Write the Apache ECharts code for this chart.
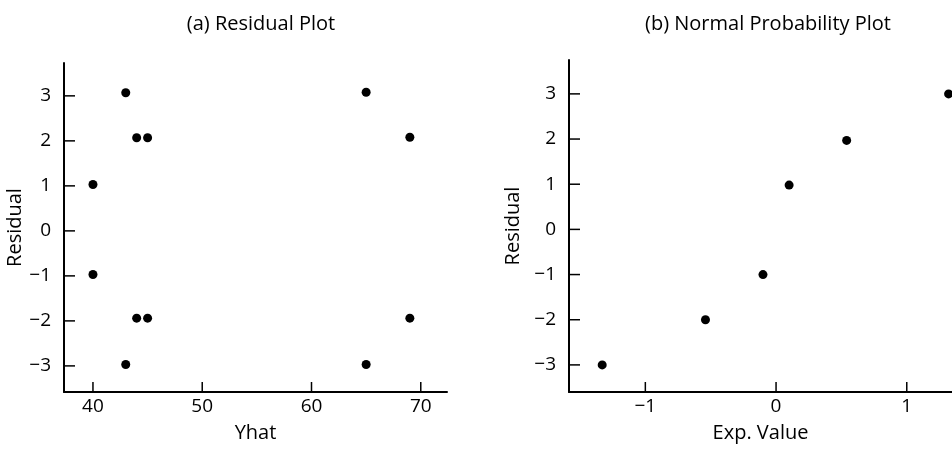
<!DOCTYPE html>
<html>
<head>
<meta charset="UTF-8">
<title>Residual Plots</title>
<script src="https://cdn.jsdelivr.net/npm/echarts@6/dist/echarts.min.js"></script>
</head>
<body style="margin:0;background:#fff">
<div id="container" style="width:952px;height:450px"></div>
<script type="text/javascript">
    // (a) residual plot
    var yhat = [43, 44, 45, 40, 65, 69, 40, 44, 45, 43, 65, 69];
    var residA = [3.07, 2.07, 2.07, 1.03, 3.08, 2.08, -0.97, -1.94, -1.94, -2.97, -2.97, -1.94];
    // (b) normal probability plot
    var expValue = [-1.33, -0.54, -0.1, 0.1, 0.54, 1.32];
    var residB = [-3, -2, -1, 0.98, 1.97, 3];

    var yhatTicks = [40, 50, 60, 70];
    var expTicks = [-1, 0, 1];
    var residTicks = [-3, -2, -1, 0, 1, 2, 3];

    // axis extents [xmin, xmax, ymin, ymax]
    var rangeA = [37.35, 72.4, -3.58, 3.73];
    var rangeB = [-1.584, 1.346, -3.6, 3.75];

    var font = 'Open Sans';

    function pairs(xs, ys) {
        return xs.map(function (x, i) { return [x, ys[i]]; });
    }
    function minus(v) {
        return String(v).replace('-', '\u2212');
    }

    function xAxisOf(idx, r, ticks, name) {
        return {
            type: 'value', gridIndex: idx, min: r[0], max: r[1],
            name: name, nameLocation: 'middle', nameGap: 31,
            nameTextStyle: {fontFamily: font, fontSize: 20, color: '#000'},
            axisLine: {show: true, onZero: false, lineStyle: {color: '#000', width: 2}},
            axisTick: {show: false},
            axisLabel: {customValues: ticks, margin: 5, fontFamily: font, fontSize: 19, color: '#000', formatter: minus},
            splitLine: {show: false}
        };
    }
    function yAxisOf(idx, r, gap) {
        return {
            type: 'value', gridIndex: idx, min: r[2], max: r[3],
            name: 'Residual', nameLocation: 'middle', nameGap: gap,
            nameTextStyle: {fontFamily: font, fontSize: 20, color: '#000'},
            axisLine: {show: true, onZero: false, lineStyle: {color: '#000', width: 2}},
            axisTick: {show: false},
            axisLabel: {customValues: residTicks, margin: 13, fontFamily: font, fontSize: 19, color: '#000', formatter: minus},
            splitLine: {show: false}
        };
    }
    // inward tick marks, placed through the axes' own scales
    function tickSeries(idx, r, xt, yt) {
        var xs = xt.map(function (v) { return [v, r[2]]; });
        var ys = yt.map(function (v) { return [r[0], v]; });
        return [
            {type: 'scatter', xAxisIndex: idx, yAxisIndex: idx, data: xs, silent: true, clip: false,
             symbol: 'rect', symbolSize: [1.5, 10], symbolOffset: [0, -5], itemStyle: {color: '#000', opacity: 1}},
            {type: 'scatter', xAxisIndex: idx, yAxisIndex: idx, data: ys, silent: true, clip: false,
             symbol: 'rect', symbolSize: [11, 1.5], symbolOffset: [5.5, 0], itemStyle: {color: '#000', opacity: 1}}
        ];
    }

    var myChart = echarts.init(document.getElementById('container'));
    var option = {
        animation: false,
        backgroundColor: '#fff',
        title: [
            {text: '(a) Residual Plot', left: 256, top: 9, textAlign: 'center',
             textStyle: {fontFamily: font, fontSize: 20, fontWeight: 'normal', color: '#000'}},
            {text: '(b) Normal Probability Plot', left: 763, top: 9, textAlign: 'center',
             textStyle: {fontFamily: font, fontSize: 20, fontWeight: 'normal', color: '#000'}}
        ],
        grid: [
            {left: 64, top: 63, right: 505, bottom: 58},
            {left: 569, top: 60, right: 0, bottom: 58}
        ],
        xAxis: [
            xAxisOf(0, rangeA, yhatTicks, 'Yhat'),
            xAxisOf(1, rangeB, expTicks, 'Exp. Value')
        ],
        yAxis: [
            yAxisOf(0, rangeA, 38),
            yAxisOf(1, rangeB, 46)
        ],
        series: [
            {type: 'scatter', xAxisIndex: 0, yAxisIndex: 0, data: pairs(yhat, residA),
             symbolSize: 9, itemStyle: {color: '#000', opacity: 1}},
            {type: 'scatter', xAxisIndex: 1, yAxisIndex: 1, data: pairs(expValue, residB),
             symbolSize: 9, itemStyle: {color: '#000', opacity: 1}}
        ].concat(tickSeries(0, rangeA, yhatTicks, residTicks), tickSeries(1, rangeB, expTicks, residTicks))
    };
    myChart.setOption(option);
</script>
</body>
</html>
